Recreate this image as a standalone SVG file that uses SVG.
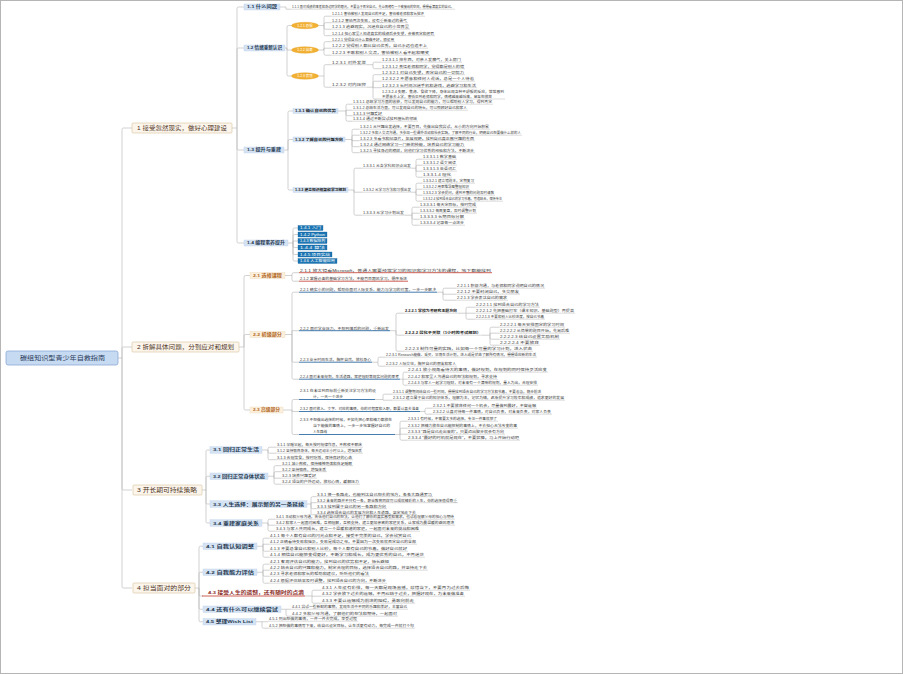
<svg xmlns="http://www.w3.org/2000/svg" width="903" height="674" viewBox="0 0 903 674">
<style>
text{font-family:"Liberation Sans","Noto Sans CJK SC",sans-serif}
.s{font-size:3.5px;fill:#3c3c3c}
.sb{font-size:3.6px;fill:#222;font-weight:bold}
.u{stroke:#b8b8b8;stroke-width:0.5;fill:none}
.ur{stroke:#c0392b;stroke-width:0.8;fill:none}
.ub{stroke:#2f6ea5;stroke-width:0.9;fill:none}
.c{stroke:#b3b3b3;stroke-width:0.6;fill:none}
.l1{fill:#fcf5ec;stroke:#dcc8ab;stroke-width:0.7}
.l1t{font-size:5.5px;fill:#4a3020}
.bx{fill:#d4e3f3;stroke:#c0d3ea;stroke-width:0.4}
.bxt{font-size:4.2px;fill:#263850;font-weight:bold}
.bo{fill:#fcefdc;stroke:#ecd7b8;stroke-width:0.4}
.bot{font-size:4.2px;fill:#b0651e;font-weight:bold}
.el{fill:#f2b134;stroke:#e39c1c;stroke-width:0.4}
.elt{font-size:3.4px;fill:#fff;text-anchor:middle}
.db{fill:#1b75b3;stroke:#0f5d94;stroke-width:0.3}
.dbt{font-size:3.2px;fill:#fff}
</style>
<rect x="0.5" y="0.5" width="902" height="673" fill="#fff" stroke="#b5b5b5" stroke-width="1"/>

<g id="connectors">
<path class="c" d="M118,358H122 M122,358V129.5Q122,128 123.5,128H132 M122,358V348.5Q122,347 123.5,347H132 M122,358V488.5Q122,490 123.5,490H132 M122,358V586.5Q122,588 123.5,588H132"/>
<path class="c" d="M232,128H237 M237,128V8.5Q237,7 238.5,7H244 M237,128V49.5Q237,48 238.5,48H244 M237,128V148.5Q237,150 238.5,150H244 M237,128V241.5Q237,243 238.5,243H244"/>
<path class="c" d="M280,7H286V9.2H291"/>
<path class="c" d="M285,48H287 M287,48V27Q287,25.5 288.5,25.5H291.5 M287,48V50H291.5 M287,48V74.5Q287,76 288.5,76H291.5"/>
<path class="c" d="M318.5,25.5H324 M324,25.5V17.7Q324,16.2 325.5,16.2H331 M324,25.5V24.2Q324,22.7 325.5,22.7H331 M324,25.5V27.7Q324,29.2 325.5,29.2H331 M324,25.5V34.2Q324,35.7 325.5,35.7H331"/>
<path class="c" d="M318.5,50H324 M324,50V43.2Q324,41.7 325.5,41.7H331 M324,50V48.2H331 M324,50V53.7Q324,55.2 325.5,55.2H331"/>
<path class="c" d="M318.5,76H324 M324,76V66.2Q324,64.7 325.5,64.7H331 M324,76V85.7Q324,87.2 325.5,87.2H331"/>
<path class="c" d="M367,64.7H373 M373,64.7V63.7Q373,62.2 374.5,62.2H381 M373,64.7V67.2Q373,68.7 374.5,68.7H381"/>
<path class="c" d="M367,87.2H373 M373,87.2V76.2Q373,74.7 374.5,74.7H381 M373,87.2V82.7Q373,81.2 374.5,81.2H381 M373,87.2V87.7H381 M373,87.2V97.5Q373,99 374.5,99H381"/>
<path class="c" d="M284,150H288 M288,150V112.5Q288,111 289.5,111H293 M288,150V141Q288,139.5 289.5,139.5H293 M288,150V188.5Q288,190 289.5,190H293"/>
<path class="c" d="M338,111H346 M346,111V105.7Q346,104.2 347.5,104.2H352 M346,111V110.2H352 M346,111V114.2Q346,115.7 347.5,115.7H352 M346,111V119.7Q346,121.2 347.5,121.2H352"/>
<path class="c" d="M345,139.5H352 M352,139.5V130.7Q352,129.2 353.5,129.2H359 M352,139.5V136.7Q352,135.2 353.5,135.2H359 M352,139.5V140.7H359 M352,139.5V145.2Q352,146.7 353.5,146.7H359 M352,139.5V151.2Q352,152.7 353.5,152.7H359"/>
<path class="c" d="M348,190H354 M354,190V169.7Q354,168.2 355.5,168.2H362 M354,190V192.2H362 M354,190V213.7Q354,215.2 355.5,215.2H362"/>
<path class="c" d="M412,168.2H416 M416,168.2V160.7Q416,159.2 417.5,159.2H422 M416,168.2V166.7Q416,165.2 417.5,165.2H422 M416,168.2V171.2H422 M416,168.2V175.7Q416,177.2 417.5,177.2H422"/>
<path class="c" d="M412,192.2H416 M416,192.2V184.7Q416,183.2 417.5,183.2H422 M416,192.2V190.7Q416,189.2 417.5,189.2H422 M416,192.2V193.7Q416,195.2 417.5,195.2H422 M416,192.2V199.7Q416,201.2 417.5,201.2H422"/>
<path class="c" d="M405,215.2H412 M412,215.2V208.7Q412,207.2 413.5,207.2H419 M412,215.2V213.2H419 M412,215.2V217.7Q412,219.2 413.5,219.2H419 M412,215.2V223.7Q412,225.2 413.5,225.2H419"/>
<path class="c" d="M288,243H293 M293,243V229.5Q293,228 294.5,228H298 M293,243V236Q293,234.5 294.5,234.5H298 M293,243V241H298 M293,243V246Q293,247.5 294.5,247.5H298 M293,243V253Q293,254.5 294.5,254.5H298 M293,243V259.5Q293,261 294.5,261H298"/>
<path class="c" d="M239,347H244 M244,347V277Q244,275.5 245.5,275.5H250 M244,347V336Q244,334.5 245.5,334.5H250 M244,347V408.5Q244,410 245.5,410H250"/>
<path class="c" d="M285,275.5H292 M292,275.5V274.2Q292,272.7 293.5,272.7H299 M292,275.5V279.7Q292,281.2 293.5,281.2H299"/>
<path class="c" d="M285,334.5H292 M292,334.5V293.7Q292,292.2 293.5,292.2H299 M292,334.5V330.7H299 M292,334.5V360.7Q292,362.2 293.5,362.2H299 M292,334.5V377.7Q292,379.2 293.5,379.2H299"/>
<path class="c" d="M437,292.2H443 M443,292.2V289.7Q443,288.2 444.5,288.2H456 M443,292.2V294.2H456 M443,292.2V298.7Q443,300.2 444.5,300.2H456"/>
<path class="c" d="M390,330.7H396 M396,330.7V314.7Q396,313.2 397.5,313.2H404 M396,330.7V333.7Q396,335.2 397.5,335.2H404 M396,330.7V349.7Q396,351.2 397.5,351.2H404"/>
<path class="c" d="M458,313.2H475 M466,313.2V308.7Q466,307.2 467.5,307.2H475 M466,313.2V317.7Q466,319.2 467.5,319.2H475"/>
<path class="c" d="M482,335.2H490 M490,335.2V328.7Q490,327.2 491.5,327.2H499 M490,335.2V333.2H499 M490,335.2V337.7Q490,339.2 491.5,339.2H499 M490,335.2V343.7Q490,345.2 491.5,345.2H499"/>
<path class="c" d="M372,362.2H378 M378,362.2V358.7Q378,357.2 379.5,357.2H385 M378,362.2V364.7Q378,366.2 379.5,366.2H385"/>
<path class="c" d="M400,379.2H407 M403,379.2V373.7Q403,372.2 404.5,372.2H407 M403,379.2V383.7Q403,385.2 404.5,385.2H407"/>
<path class="c" d="M283,410H292 M292,410V401Q292,399.5 293.5,399.5H299 M292,410V411.5H299 M292,410V433Q292,434.5 293.5,434.5H299"/>
<path class="c" d="M375,399.5H383 M383,399.5V395.7Q383,394.2 384.5,394.2H392 M383,399.5V400.2H392"/>
<path class="c" d="M420,411.5H425 M425,411.5V409.7Q425,408.2 426.5,408.2H432 M425,411.5V412.7Q425,414.2 426.5,414.2H432"/>
<path class="c" d="M395,434.5H400 M400,434.5V422.7Q400,421.2 401.5,421.2H407 M400,434.5V429.7Q400,428.2 401.5,428.2H407 M400,434.5V434.2H407 M400,434.5V438.7Q400,440.2 401.5,440.2H407"/>
<path class="c" d="M202,490H206 M206,490V451.5Q206,450 207.5,450H210 M206,490V477.75Q206,476.25 207.5,476.25H210 M206,490V502.5Q206,504 207.5,504H210 M206,490V521.5Q206,523 207.5,523H210"/>
<path class="c" d="M262,450H268 M268,450V448.7Q268,447.2 269.5,447.2H276 M268,450V451.7Q268,453.2 269.5,453.2H276 M268,450V458.2Q268,459.7 269.5,459.7H276"/>
<path class="c" d="M268,476.25H274 M274,476.25V467.2Q274,465.7 275.5,465.7H281 M274,476.25V473.2Q274,471.7 275.5,471.7H281 M274,476.25V478.2H281 M274,476.25V482.7Q274,484.2 275.5,484.2H281"/>
<path class="c" d="M307,504H311 M311,504V498.2Q311,496.7 312.5,496.7H316 M311,504V502.7H316 M311,504V507.2Q311,508.7 312.5,508.7H316 M311,504V513.2Q311,514.7 312.5,514.7H316"/>
<path class="c" d="M262,523H268 M268,523V520.7Q268,519.2 269.5,519.2H275 M268,523V525.2H275 M268,523V529.7Q268,531.2 269.5,531.2H275"/>
<path class="c" d="M195,588H199 M199,588V547.75Q199,546.25 200.5,546.25H203 M199,588V573.75Q199,572.25 200.5,572.25H203 M199,588V594.5Q199,596 200.5,596H203 M199,588V607.75Q199,609.25 200.5,609.25H203 M199,588V620.25Q199,621.75 200.5,621.75H203"/>
<path class="c" d="M257,546.25H263 M263,546.25V539.7Q263,538.2 264.5,538.2H269 M263,546.25V544.2H269 M263,546.25V549.7Q263,551.2 264.5,551.2H269 M263,546.25V555.7Q263,557.2 264.5,557.2H269"/>
<path class="c" d="M257,572.25H263 M263,572.25V565.7Q263,564.2 264.5,564.2H269 M263,572.25V570.2H269 M263,572.25V574.7Q263,576.2 264.5,576.2H269 M263,572.25V581.7Q263,583.2 264.5,583.2H269"/>
<path class="c" d="M305,596H312 M312,596V591.7Q312,590.2 313.5,590.2H321 M312,596V596.2H321 M312,596V601.7Q312,603.2 313.5,603.2H321"/>
<path class="c" d="M281,609.25H291 M286,609.25V614.7Q286,616.2 287.5,616.2H291"/>
<path class="c" d="M256,621.75H268 M262,621.75V626.7Q262,628.2 263.5,628.2H268"/>
</g>

<g id="root"><rect x="6" y="351" width="112" height="14" rx="2" fill="#c6daf2" stroke="#8eaad6" stroke-width="0.8"/><text x="20" y="360.3" font-size="6.2" fill="#2a3a5a" textLength="85" lengthAdjust="spacingAndGlyphs">碳组知识型青少年自救指南</text></g>

<g id="n1"><rect class="l1" x="132" y="123" width="100" height="10" rx="1"/><text class="l1t" x="137" y="130" textLength="90" lengthAdjust="spacingAndGlyphs">1 接受忽然现实，做好心理建设</text></g>
<g id="n2"><rect class="l1" x="132" y="342" width="107" height="10" rx="1"/><text class="l1t" x="137" y="349" textLength="97" lengthAdjust="spacingAndGlyphs">2 拆解具体问题，分到应对和规划</text></g>
<g id="n3"><rect class="l1" x="133" y="485" width="69" height="10" rx="1"/><text class="l1t" x="137" y="492" textLength="60" lengthAdjust="spacingAndGlyphs">3 开长期可持续策略</text></g>
<g id="n4"><rect class="l1" x="133" y="583" width="62" height="10" rx="1"/><text class="l1t" x="137" y="590" textLength="54" lengthAdjust="spacingAndGlyphs">4 担当面对的部分</text></g>

<g id="n1-1"><rect class="bx" x="244" y="4" width="36" height="6"/><text class="bxt" x="247" y="8.4" textLength="30" lengthAdjust="spacingAndGlyphs">1.1 什么问题</text></g>
<g id="n1-1-1"><text class="s" x="292" y="8.3" textLength="162" lengthAdjust="spacingAndGlyphs">1.1.1 面对成绩的落差和身边同学的眼光，不要急于否定自己，先让情绪有一个被接纳的空间，慢慢看清真实的自己。</text><path class="u" d="M291,9.2H455"/></g>

<g id="n1-2"><rect class="bx" x="244" y="45" width="41" height="6"/><text class="bxt" x="247" y="49.4" textLength="35" lengthAdjust="spacingAndGlyphs">1.2 情绪重新认识</text></g>
<g id="n1-2-1"><ellipse class="el" cx="305" cy="25.5" rx="13.5" ry="3.2"/><text class="elt" x="305" y="26.7">1.2.1 恐惧</text></g>
<g id="n1-2-2"><ellipse class="el" cx="305" cy="50" rx="13.5" ry="3.2"/><text class="elt" x="305" y="51.2">1.2.2 自卑</text></g>
<g id="n1-2-3"><ellipse class="el" cx="305" cy="76" rx="13.5" ry="3.2"/><text class="elt" x="305" y="77.2">1.2.3 愤怒</text></g>
<g id="n1-2-1-x">
<text class="s" x="332" y="15.3" textLength="92" lengthAdjust="spacingAndGlyphs">1.2.1.1 害怕被别人发现自己的不足，害怕被老师和家长批评</text><path class="u" d="M331,16.2H425"/>
<text class="s" x="332" y="21.8" textLength="75" lengthAdjust="spacingAndGlyphs">1.2.1.2 害怕再次失败，没有重新来过的勇气</text><path class="u" d="M331,22.7H408"/>
<text class="s" x="332" y="28.3" textLength="77" lengthAdjust="spacingAndGlyphs">1.2.1.3 逃避现实，沉迷在自己的小世界里</text><path class="u" d="M331,29.2H410"/>
<text class="s" x="332" y="34.8" textLength="102" lengthAdjust="spacingAndGlyphs">1.2.1.4 担心家里人知道真实的成绩后会失望，会被否定和惩罚</text><path class="u" d="M331,35.7H435"/>
</g>
<g id="n1-2-2-x">
<text class="s" x="332" y="40.8" textLength="62" lengthAdjust="spacingAndGlyphs">1.2.2.1 觉得自己什么都做不好，很没用</text><path class="u" d="M331,41.7H395"/>
<text class="s" x="332" y="47.3" textLength="95" lengthAdjust="spacingAndGlyphs">1.2.2.2 觉得别人都比自己优秀，自己永远也追不上</text><path class="u" d="M331,48.2H428"/>
<text class="s" x="332" y="54.3" textLength="97" lengthAdjust="spacingAndGlyphs">1.2.2.3 不敢和别人交流，害怕被别人看不起和嘲笑</text><path class="u" d="M331,55.2H430"/>
</g>
<g id="n1-2-3-1"><text class="s" x="332" y="63.8" textLength="34" lengthAdjust="spacingAndGlyphs">1.2.3.1 对外发泄</text><path class="u" d="M331,64.7H367"/></g>
<g id="n1-2-3-2"><text class="s" x="332" y="86.3" textLength="34" lengthAdjust="spacingAndGlyphs">1.2.3.2 对内压抑</text><path class="u" d="M331,87.2H367"/></g>
<g id="n1-2-3-x">
<text class="s" x="382" y="61.3" textLength="79" lengthAdjust="spacingAndGlyphs">1.2.3.1.1 摔东西，对亲人发脾气，关上房门</text><path class="u" d="M381,62.2H462"/>
<text class="s" x="382" y="67.8" textLength="82" lengthAdjust="spacingAndGlyphs">1.2.3.1.2 责怪老师和同学，觉得都是别人的错</text><path class="u" d="M381,68.7H465"/>
<text class="s" x="382" y="73.8" textLength="82" lengthAdjust="spacingAndGlyphs">1.2.3.2.1 对自己失望，否定自己的一切努力</text><path class="u" d="M381,74.7H465"/>
<text class="s" x="382" y="80.3" textLength="92" lengthAdjust="spacingAndGlyphs">1.2.3.2.2 不愿意和任何人说话，总是一个人待着</text><path class="u" d="M381,81.2H475"/>
<text class="s" x="382" y="86.8" textLength="94" lengthAdjust="spacingAndGlyphs">1.2.3.2.3 长时间沉迷手机和游戏，逃避学习和生活</text><path class="u" d="M381,87.7H477"/>
<text class="s" x="382" y="93.3" textLength="122" lengthAdjust="spacingAndGlyphs">1.2.3.2.4 失眠、焦虑、食欲下降，身体出现各种不舒服的反应，常常感到</text>
<text class="s" x="382" y="97.8" textLength="110" lengthAdjust="spacingAndGlyphs">不愿意去上学，害怕见到老师和同学，情绪越来越低落，甚至想放弃</text><path class="u" d="M381,99H505"/>
</g>

<g id="n1-3"><rect class="bx" x="244" y="147" width="40" height="6"/><text class="bxt" x="247" y="151.4" textLength="34" lengthAdjust="spacingAndGlyphs">1.3 提升与重建</text></g>
<g id="n1-3-1"><rect class="bx" x="293" y="108.5" width="45" height="5"/><text class="sb" x="295" y="112.2" textLength="41" lengthAdjust="spacingAndGlyphs">1.3.1 确认自己的优势</text></g>
<g id="n1-3-1-x">
<text class="s" x="353" y="103.3" textLength="139" lengthAdjust="spacingAndGlyphs">1.3.1.1 总结学习方面的收获，可以发现自己的能力，可以帮助别人学习，得到肯定</text><path class="u" d="M352,104.2H493"/>
<text class="s" x="353" y="109.3" textLength="114" lengthAdjust="spacingAndGlyphs">1.3.1.2 总结生活方面，可以发现自己的特长，可以照顾好自己和家人</text><path class="u" d="M352,110.2H468"/>
<text class="s" x="353" y="114.8" textLength="29" lengthAdjust="spacingAndGlyphs">1.3.1.3 兴趣爱好</text><path class="u" d="M352,115.7H383"/>
<text class="s" x="353" y="120.3" textLength="64" lengthAdjust="spacingAndGlyphs">1.3.1.4 通过不断尝试找到擅长的领域</text><path class="u" d="M352,121.2H418"/>
</g>
<g id="n1-3-2"><rect class="bx" x="293" y="137" width="52" height="5"/><text class="sb" x="295" y="140.7" textLength="48" lengthAdjust="spacingAndGlyphs">1.3.2 了解自己的兴趣方向</text></g>
<g id="n1-3-2-x">
<text class="s" x="360" y="128.3" textLength="129" lengthAdjust="spacingAndGlyphs">1.3.2.1 从兴趣出发选择，不要盲目，先做出自我尝试，从小的方向开始积累</text><path class="u" d="M359,129.2H490"/>
<text class="s" x="360" y="134.3" textLength="161" lengthAdjust="spacingAndGlyphs">1.3.2.2 多和人交流沟通，多参加一些课外活动和社会实践，了解不同的行业，明确自己想要做什么样的人</text><path class="u" d="M359,135.2H522"/>
<text class="s" x="360" y="139.8" textLength="114" lengthAdjust="spacingAndGlyphs">1.3.2.3 多看书和纪录片，拓展视野，找到自己真正感兴趣的东西</text><path class="u" d="M359,140.7H475"/>
<text class="s" x="360" y="145.8" textLength="104" lengthAdjust="spacingAndGlyphs">1.3.2.4 通过网络学习一门新的技能，培养自己的学习能力</text><path class="u" d="M359,146.7H465"/>
<text class="s" x="360" y="151.8" textLength="114" lengthAdjust="spacingAndGlyphs">1.3.2.5 寻找身边的榜样，向他们学习优秀的经验和方法，不断进步</text><path class="u" d="M359,152.7H475"/>
</g>
<g id="n1-3-3"><rect class="bx" x="293" y="187.5" width="55" height="5"/><text class="sb" x="295" y="191.2" textLength="51" lengthAdjust="spacingAndGlyphs">1.3.3 建立知识框架和学习规划</text></g>
<g id="n1-3-3-x">
<text class="s" x="363" y="167.3" textLength="48" lengthAdjust="spacingAndGlyphs">1.3.3.1 从各学科知识点出发</text><path class="u" d="M362,168.2H412"/>
<text class="s" x="363" y="191.3" textLength="48" lengthAdjust="spacingAndGlyphs">1.3.3.2 从学习方法和习惯出发</text><path class="u" d="M362,192.2H412"/>
<text class="s" x="363" y="214.3" textLength="41" lengthAdjust="spacingAndGlyphs">1.3.3.3 从学习计划出发</text><path class="u" d="M362,215.2H405"/>
<text class="s" x="423" y="158.3" textLength="33" lengthAdjust="spacingAndGlyphs">1.3.3.1.1 数学基础</text><path class="u" d="M422,159.2H457"/>
<text class="s" x="423" y="164.3" textLength="33" lengthAdjust="spacingAndGlyphs">1.3.3.1.2 语文阅读</text><path class="u" d="M422,165.2H457"/>
<text class="s" x="423" y="170.3" textLength="33" lengthAdjust="spacingAndGlyphs">1.3.3.1.3 英语词汇</text><path class="u" d="M422,171.2H457"/>
<text class="s" x="423" y="176.3" textLength="28" lengthAdjust="spacingAndGlyphs">1.3.3.1.4 理化</text><path class="u" d="M422,177.2H452"/>
<text class="s" x="423" y="182.3" textLength="51" lengthAdjust="spacingAndGlyphs">1.3.3.2.1 建立错题本，定期复习</text><path class="u" d="M422,183.2H475"/>
<text class="s" x="423" y="188.3" textLength="46" lengthAdjust="spacingAndGlyphs">1.3.3.2.2 用思维导图整理知识</text><path class="u" d="M422,189.2H470"/>
<text class="s" x="423" y="194.3" textLength="71" lengthAdjust="spacingAndGlyphs">1.3.3.2.3 学会提问，遇到不懂的问题及时请教</text><path class="u" d="M422,195.2H495"/>
<text class="s" x="423" y="200.3" textLength="79" lengthAdjust="spacingAndGlyphs">1.3.3.2.4 找到适合自己的学习节奏，劳逸结合，保持专注</text><path class="u" d="M422,201.2H503"/>
<text class="s" x="420" y="206.3" textLength="56" lengthAdjust="spacingAndGlyphs">1.3.3.3.1 每天定目标，按时完成</text><path class="u" d="M419,207.2H477"/>
<text class="s" x="420" y="212.3" textLength="56" lengthAdjust="spacingAndGlyphs">1.3.3.3.2 每周复盘，及时调整计划</text><path class="u" d="M419,213.2H477"/>
<text class="s" x="420" y="218.3" textLength="44" lengthAdjust="spacingAndGlyphs">1.3.3.3.3 长期目标分解</text><path class="u" d="M419,219.2H465"/>
<text class="s" x="420" y="224.3" textLength="44" lengthAdjust="spacingAndGlyphs">1.3.3.3.4 记录每一点进步</text><path class="u" d="M419,225.2H465"/>
</g>

<g id="n1-4"><rect class="bx" x="244" y="240" width="44" height="6"/><text class="bxt" x="247" y="244.4" textLength="38" lengthAdjust="spacingAndGlyphs">1.4 编程素养提升</text></g>
<g id="n1-4-x">
<rect class="db" x="298" y="225.5" width="25" height="5"/><text class="dbt" x="300" y="229.2" textLength="21" lengthAdjust="spacingAndGlyphs">1.4.1 入门</text>
<rect class="db" x="298" y="232" width="29" height="5"/><text class="dbt" x="300" y="235.7" textLength="25" lengthAdjust="spacingAndGlyphs">1.4.2 Python</text>
<rect class="db" x="298" y="238.5" width="29" height="5"/><text class="dbt" x="300" y="242.2" textLength="25" lengthAdjust="spacingAndGlyphs">1.4.3 数据结构</text>
<rect class="db" x="298" y="245" width="29" height="5"/><text class="dbt" x="300" y="248.7" textLength="25" lengthAdjust="spacingAndGlyphs">1.4.4 算法</text>
<rect class="db" x="298" y="252" width="34" height="5"/><text class="dbt" x="300" y="255.7" textLength="30" lengthAdjust="spacingAndGlyphs">1.4.5 项目实战</text>
<rect class="db" x="298" y="258.5" width="39" height="5"/><text class="dbt" x="300" y="262.2" textLength="35" lengthAdjust="spacingAndGlyphs">1.4.6 人工智能应用</text>
</g>

<g id="n2-1"><rect class="bo" x="250" y="272.5" width="35" height="6"/><text class="bot" x="253" y="276.9" textLength="29" lengthAdjust="spacingAndGlyphs">2.1 选修课程</text></g>
<g id="n2-1-x">
<text class="s" x="300" y="271.8" textLength="191" lengthAdjust="spacingAndGlyphs">2.1.1 放大镜看Microsoft，普通人需要经常学习的知识和学习方法的课程，地下都能找到</text><path class="ur" d="M299,272.7H492"/>
<text class="s" x="300" y="280.3" textLength="107" lengthAdjust="spacingAndGlyphs">2.1.2 掌握必备的基础学习方法，不能盲目跟风学习，循序渐进</text><path class="ur" d="M299,281.2H408" stroke="#d45a4a"/>
</g>
<g id="n2-2"><rect class="bo" x="250" y="331.5" width="35" height="6"/><text class="bot" x="253" y="335.9" textLength="29" lengthAdjust="spacingAndGlyphs">2.2 初级部分</text></g>
<g id="n2-2-x">
<text class="s" x="300" y="291.3" textLength="136" lengthAdjust="spacingAndGlyphs">2.2.1 确实小的问题，帮助你面对人际关系、能力与学习的对策，一步一步解决</text><path class="ub" d="M299,292.2H437"/>
<text class="s" x="300" y="329.8" textLength="89" lengthAdjust="spacingAndGlyphs">2.2.2 面对学业压力，不想到落后的问题，重新出发</text><path class="ub" d="M299,330.7H390"/>
<text class="s" x="300" y="361.3" textLength="71" lengthAdjust="spacingAndGlyphs">2.2.3 业余时间生活，胸怀自然，放松身心</text><path class="ub" d="M299,362.2H372"/>
<text class="s" x="300" y="378.3" textLength="99" lengthAdjust="spacingAndGlyphs">2.2.4 面对未来规划，生活道路，家庭理财等现实问题的思考</text><path class="ub" d="M299,379.2H400"/>
</g>
<g id="n2-2-1-x">
<text class="s" x="457" y="287.3" textLength="87" lengthAdjust="spacingAndGlyphs">2.2.1.1 积极沟通，与老师和同学说明自己的情况</text><path class="u" d="M456,288.2H545"/>
<text class="s" x="457" y="293.3" textLength="62" lengthAdjust="spacingAndGlyphs">2.2.1.2 不要封闭自己，多交朋友</text><path class="u" d="M456,294.2H520"/>
<text class="s" x="457" y="299.3" textLength="50" lengthAdjust="spacingAndGlyphs">2.2.1.3 学会表达自己的需求</text><path class="u" d="M456,300.2H508"/>
</g>
<g id="n2-2-2-x">
<text class="sb" x="405" y="312.3" textLength="52" lengthAdjust="spacingAndGlyphs">2.2.2.1 学校为考研究主题方向</text><path class="u" d="M404,313.2H458"/>
<text class="sb" x="405" y="334.3" textLength="76" lengthAdjust="spacingAndGlyphs">2.2.2.2 弱化于关联（1小时的考试规划）</text><path class="u" d="M404,335.2H482"/>
<text class="s" x="405" y="350.3" textLength="127" lengthAdjust="spacingAndGlyphs">2.2.2.3 制作可量的实践，比如每一个可量的学习计划，进入状态</text><path class="u" d="M404,351.2H533"/>
<text class="s" x="476" y="306.3" textLength="63" lengthAdjust="spacingAndGlyphs">2.2.2.1.1 找到适合自己的学习方法</text><path class="u" d="M475,307.2H540"/>
<text class="s" x="476" y="312.3" textLength="98" lengthAdjust="spacingAndGlyphs">2.2.2.1.2 先把基础打牢（课本知识、基础题型）再提高</text><path class="u" d="M475,313.2H575"/>
<text class="s" x="476" y="318.3" textLength="68" lengthAdjust="spacingAndGlyphs">2.2.2.1.3 不要和别人比较进度，按自己节奏</text><path class="u" d="M475,319.2H545"/>
<text class="s" x="500" y="326.3" textLength="64" lengthAdjust="spacingAndGlyphs">2.2.2.2.1 每天安排固定的学习时间</text><path class="u" d="M499,327.2H565"/>
<text class="s" x="500" y="332.3" textLength="69" lengthAdjust="spacingAndGlyphs">2.2.2.2.2 从简单的题目开始，先易后难</text><path class="u" d="M499,333.2H570"/>
<text class="s" x="500" y="338.3" textLength="59" lengthAdjust="spacingAndGlyphs">2.2.2.2.3 给自己设置奖励机制</text><path class="u" d="M499,339.2H560"/>
<text class="s" x="500" y="344.3" textLength="39" lengthAdjust="spacingAndGlyphs">2.2.2.2.4 不要放弃</text><path class="u" d="M499,345.2H540"/>
</g>
<g id="n2-2-3-x">
<text class="s" x="386" y="356.3" textLength="150" lengthAdjust="spacingAndGlyphs">2.2.3.1 Research能做、采买、早晚生活计划，进入或是状态了解所有情况，慢慢适应新的生活</text><path class="u" d="M385,357.2H537"/>
<text class="s" x="386" y="365.3" textLength="70" lengthAdjust="spacingAndGlyphs">2.2.3.2 人际交往，胸怀自己的朋友和家人</text><path class="u" d="M385,366.2H457"/>
</g>
<g id="n2-2-4-x">
<text class="s" x="408" y="371.3" textLength="139" lengthAdjust="spacingAndGlyphs">2.2.4.1 放小视角看待大的事情，做好规划，在规划的同时保持灵活应变</text><path class="u" d="M407,372.2H548"/>
<text class="s" x="408" y="378.3" textLength="89" lengthAdjust="spacingAndGlyphs">2.2.4.2 和家里人沟通自己的想法和规划，寻求支持</text><path class="u" d="M407,379.2H498"/>
<text class="s" x="408" y="384.3" textLength="129" lengthAdjust="spacingAndGlyphs">2.2.4.3 与家人一起学习理财，对未来有一个清晰的规划，量入为出，合理安排</text><path class="u" d="M407,385.2H538"/>
</g>
<g id="n2-3"><rect class="bo" x="250" y="407" width="33" height="6"/><text class="bot" x="253" y="411.4" textLength="27" lengthAdjust="spacingAndGlyphs">2.3 高级部分</text></g>
<g id="n2-3-x">
<text class="s" x="300" y="392.3" textLength="76" lengthAdjust="spacingAndGlyphs">2.3.1 在未达到目标前重新关注学习方法的设</text>
<text class="s" x="313" y="398.3" textLength="30" lengthAdjust="spacingAndGlyphs">计，一天一个进步</text><path class="ub" d="M299,399.5H375"/>
<text class="s" x="300" y="410.3" textLength="119" lengthAdjust="spacingAndGlyphs">2.3.2 面对放入、文字、对应的事情，你的对程度和入职，都要认真去准备</text><path class="ub" d="M299,411.5H420"/>
<text class="s" x="300" y="421.3" textLength="92" lengthAdjust="spacingAndGlyphs">2.3.3 不想做出选择的时候，不如先把心思和精力都放在</text>
<text class="s" x="313" y="427.3" textLength="77" lengthAdjust="spacingAndGlyphs">当下能做的事情上，一步一步地掌握好自己的</text>
<text class="s" x="313" y="433.3" textLength="14" lengthAdjust="spacingAndGlyphs">人生路线</text><path class="ub" d="M299,434.5H395"/>
<text class="s" x="393" y="393.3" textLength="148" lengthAdjust="spacingAndGlyphs">2.3.1.1 调整期间给自己一些时间，慢慢找到适合自己的学习方法和节奏，不要着急，稳步前进</text><path class="u" d="M392,394.2H542"/>
<text class="s" x="393" y="399.3" textLength="171" lengthAdjust="spacingAndGlyphs">2.3.1.2 建立属于自己的知识体系，理解为主，记忆为辅，逐渐提升学习效率和成绩，追求更好的发展</text><path class="u" d="M392,400.2H565"/>
<text class="s" x="433" y="407.3" textLength="103" lengthAdjust="spacingAndGlyphs">2.3.2.1 不要放弃任何一个机会，尽量做到最好，不留遗憾</text><path class="u" d="M432,408.2H537"/>
<text class="s" x="433" y="413.3" textLength="118" lengthAdjust="spacingAndGlyphs">2.3.2.2 认真对待每一件事情，对自己负责，对未来负责，对家人负责</text><path class="u" d="M432,414.2H552"/>
<text class="s" x="408" y="420.3" textLength="89" lengthAdjust="spacingAndGlyphs">2.3.3.1 有时候，不需要太多的选择，专注一件事就够了</text><path class="u" d="M407,421.2H498"/>
<text class="s" x="408" y="427.3" textLength="109" lengthAdjust="spacingAndGlyphs">2.3.3.2 把精力放在自己能控制的事情上，不去担心无法改变的事</text><path class="u" d="M407,428.2H518"/>
<text class="s" x="408" y="433.3" textLength="96" lengthAdjust="spacingAndGlyphs">2.3.3.3 “路是自己走出来的”，只要迈出脚步就会有方向</text><path class="u" d="M407,434.2H505"/>
<text class="s" x="408" y="439.3" textLength="111" lengthAdjust="spacingAndGlyphs">2.3.3.4 “最好的时机就是现在”，不要犹豫，马上开始行动吧</text><path class="u" d="M407,440.2H520"/>
</g>

<g id="n3-1"><rect class="bx" x="210" y="446.75" width="52" height="6.5"/><text class="bxt" x="213" y="451.4" textLength="46" lengthAdjust="spacingAndGlyphs">3.1 回归正常生活</text></g>
<g id="n3-1-x">
<text class="s" x="277" y="446.3" textLength="85" lengthAdjust="spacingAndGlyphs">3.1.1 早睡早起，每天按时规律作息，不熬夜不赖床</text><path class="u" d="M276,447.2H363"/>
<text class="s" x="277" y="452.3" textLength="85" lengthAdjust="spacingAndGlyphs">3.1.2 坚持锻炼身体，每天运动半小时以上，增强体质</text><path class="u" d="M276,453.2H363"/>
<text class="s" x="277" y="458.8" textLength="75" lengthAdjust="spacingAndGlyphs">3.1.3 合理饮食，按时吃饭，保持良好的心态</text><path class="u" d="M276,459.7H353"/>
</g>
<g id="n3-2"><rect class="bx" x="210" y="473" width="58" height="6.5"/><text class="bxt" x="213" y="477.7" textLength="52" lengthAdjust="spacingAndGlyphs">3.2 回归正常身体状态</text></g>
<g id="n3-2-x">
<text class="s" x="282" y="464.8" textLength="70" lengthAdjust="spacingAndGlyphs">3.2.1 减少熬夜，保持精神饱满和充足睡眠</text><path class="u" d="M281,465.7H353"/>
<text class="s" x="282" y="470.8" textLength="44" lengthAdjust="spacingAndGlyphs">3.2.2 坚持锻炼，增强体质</text><path class="u" d="M281,471.7H327"/>
<text class="s" x="282" y="477.3" textLength="34" lengthAdjust="spacingAndGlyphs">3.2.3 培养兴趣爱好</text><path class="u" d="M281,478.2H317"/>
<text class="s" x="282" y="483.3" textLength="77" lengthAdjust="spacingAndGlyphs">3.2.4 适当的户外运动，放松心情，缓解压力</text><path class="u" d="M281,484.2H360"/>
</g>
<g id="n3-3"><rect class="bx" x="210" y="500.75" width="97" height="6.5"/><text class="bxt" x="213" y="505.5" textLength="91" lengthAdjust="spacingAndGlyphs">3.3 人生选择：展示新的另一条延续</text></g>
<g id="n3-3-x">
<text class="s" x="317" y="495.8" textLength="115" lengthAdjust="spacingAndGlyphs">3.3.1 换一条路走，也能到达自己想去的地方，条条大路通罗马</text><path class="u" d="M316,496.7H433"/>
<text class="s" x="317" y="501.8" textLength="140" lengthAdjust="spacingAndGlyphs">3.3.2 未来的路并不只有一条，职业教育同样可以成就精彩的人生，你的选择值得尊重</text><path class="u" d="M316,502.7H458"/>
<text class="s" x="317" y="507.8" textLength="69" lengthAdjust="spacingAndGlyphs">3.3.3 找到属于自己的另一条路和方向</text><path class="u" d="M316,508.7H387"/>
<text class="s" x="317" y="513.8" textLength="99" lengthAdjust="spacingAndGlyphs">3.3.4 选择适合自己的发展方向和人生道路，坚定地走下去</text><path class="u" d="M316,514.7H417"/>
</g>
<g id="n3-4"><rect class="bx" x="210" y="519.75" width="52" height="6.5"/><text class="bxt" x="213" y="524.5" textLength="46" lengthAdjust="spacingAndGlyphs">3.4 重建家庭关系</text></g>
<g id="n3-4-x">
<text class="s" x="276" y="518.3" textLength="178" lengthAdjust="spacingAndGlyphs">3.4.1 主动和父母沟通，告诉他们自己的想法，让他们了解你的真实感受和需求，也试着理解父母的担心与期待</text><path class="u" d="M275,519.2H455"/>
<text class="s" x="276" y="524.3" textLength="178" lengthAdjust="spacingAndGlyphs">3.4.2 和家人一起面对困难，互相理解，互相支持，建立更加亲密的家庭关系，让家成为最温暖的避风港湾</text><path class="u" d="M275,525.2H455"/>
<text class="s" x="276" y="530.3" textLength="143" lengthAdjust="spacingAndGlyphs">3.4.3 与家人共同成长，建立一个温暖和谐的家庭，一起面对未来的挑战和困难</text><path class="u" d="M275,531.2H420"/>
</g>

<g id="n4-1"><rect class="bx" x="203" y="543" width="54" height="6.5"/><text class="bxt" x="206" y="547.7" textLength="48" lengthAdjust="spacingAndGlyphs">4.1 自我认知调整</text></g>
<g id="n4-1-x">
<text class="s" x="270" y="537.3" textLength="141" lengthAdjust="spacingAndGlyphs">4.1.1 每个人都有自己的闪光点和不足，接受不完美的自己，学会欣赏自己</text><path class="u" d="M269,538.2H412"/>
<text class="s" x="270" y="543.3" textLength="146" lengthAdjust="spacingAndGlyphs">4.1.2 正确看待失败和挫折，失败是成功之母，不要因为一次失败就否定自己的全部</text><path class="u" d="M269,544.2H417"/>
<text class="s" x="270" y="550.3" textLength="137" lengthAdjust="spacingAndGlyphs">4.1.3 不要总拿自己和别人比较，每个人都有自己的节奏，做好自己就好</text><path class="u" d="M269,551.2H408"/>
<text class="s" x="270" y="556.3" textLength="154" lengthAdjust="spacingAndGlyphs">4.1.4 相信自己能够变得更好，不断学习和成长，成为更优秀的自己，不再迷茫</text><path class="u" d="M269,557.2H425"/>
</g>
<g id="n4-2"><rect class="bx" x="203" y="569" width="54" height="6.5"/><text class="bxt" x="206" y="573.7" textLength="48" lengthAdjust="spacingAndGlyphs">4.2 自我能力评估</text></g>
<g id="n4-2-x">
<text class="s" x="270" y="563.3" textLength="119" lengthAdjust="spacingAndGlyphs">4.2.1 客观评估自己的能力，找到自己的优势和不足，扬长避短</text><path class="u" d="M269,564.2H390"/>
<text class="s" x="270" y="569.3" textLength="157" lengthAdjust="spacingAndGlyphs">4.2.2 结合自己的兴趣和能力，制定合理的目标，选择适合自己的路，并坚持走下去</text><path class="u" d="M269,570.2H428"/>
<text class="s" x="270" y="575.3" textLength="99" lengthAdjust="spacingAndGlyphs">4.2.3 寻求老师和家长的帮助和建议，听听他们的看法</text><path class="u" d="M269,576.2H370"/>
<text class="s" x="270" y="582.3" textLength="116" lengthAdjust="spacingAndGlyphs">4.2.4 根据评估结果及时调整，找到适合自己的方向，不断进步</text><path class="u" d="M269,583.2H387"/>
</g>
<g id="n4-3"><text x="208" y="594.3" font-size="4.2" font-weight="bold" fill="#8b2a1f" textLength="96" lengthAdjust="spacingAndGlyphs">4.3 接受人生的遗憾，还有随时的点滴</text><path class="ur" d="M202,596H305"/></g>
<g id="n4-3-x">
<text class="s" x="322" y="589.3" textLength="147" lengthAdjust="spacingAndGlyphs">4.3.1 人生没有彩排，每一天都是现场直播，珍惜当下，不要再为过去后悔</text><path class="u" d="M321,590.2H470"/>
<text class="s" x="322" y="595.3" textLength="142" lengthAdjust="spacingAndGlyphs">4.3.2 学会放下过去的遗憾，不再纠结于过去，把握好现在，为未来做准备</text><path class="u" d="M321,596.2H465"/>
<text class="s" x="322" y="602.3" textLength="92" lengthAdjust="spacingAndGlyphs">4.3.3 不要让遗憾成为前进的阻碍，勇敢向前走</text><path class="u" d="M321,603.2H415"/>
</g>
<g id="n4-4"><rect class="bx" x="203" y="606" width="78" height="6.5"/><text class="bxt" x="206" y="610.7" textLength="72" lengthAdjust="spacingAndGlyphs">4.4 还有什么可以继续尝试</text></g>
<g id="n4-4-x">
<text class="s" x="292" y="608.3" textLength="115" lengthAdjust="spacingAndGlyphs">4.4.1 尝试一些新鲜的事物，发现生活中不同的乐趣和美好，丰富自己</text><path class="u" d="M291,609.2H408"/>
<text class="s" x="292" y="615.3" textLength="105" lengthAdjust="spacingAndGlyphs">4.4.2 多和父母沟通，了解他们的想法和期待，一起面对</text><path class="u" d="M291,616.2H398"/>
</g>
<g id="n4-5"><rect class="bx" x="203" y="618.5" width="53" height="6.5"/><text class="bxt" x="206" y="623.2" textLength="47" lengthAdjust="spacingAndGlyphs">4.5 整理Wish List</text></g>
<g id="n4-5-x">
<text class="s" x="269" y="620.3" textLength="88" lengthAdjust="spacingAndGlyphs">4.5.1 列出想做的事情，一件一件去完成，享受过程</text><path class="u" d="M268,621.2H358"/>
<text class="s" x="269" y="627.3" textLength="145" lengthAdjust="spacingAndGlyphs">4.5.2 把想做的事情写下来，给自己设定目标，让生活更有动力，每完成一件就打个勾</text><path class="u" d="M268,628.2H415"/>
</g>
</svg>
